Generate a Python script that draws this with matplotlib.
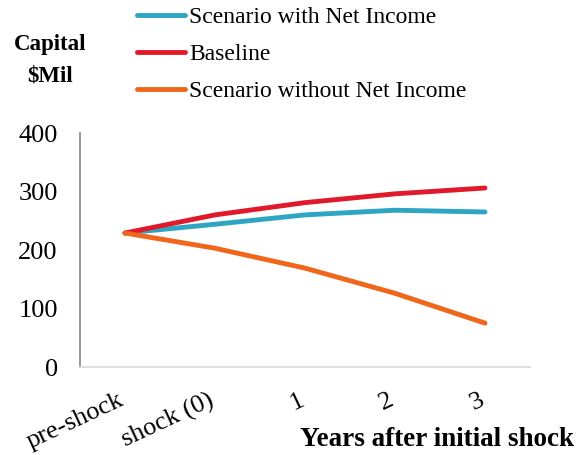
import matplotlib
matplotlib.use('Agg')
import matplotlib.pyplot as plt
import matplotlib.transforms as mtransforms

plt.rcParams['font.family'] = ['Liberation Serif', 'DejaVu Serif']

# categories along the x axis
cats = ['pre-shock', 'shock (0)', '1', '2', '3']

# capital in $Mil
with_ni = [229, 244, 260, 268, 265]
baseline = [229, 260, 281, 296, 306]
without_ni = [229, 203, 169, 126, 75]

labels = ['Scenario with Net Income', 'Baseline', 'Scenario without Net Income']
colors = ['#2EA5C3', '#E01A2B', '#F0661B']

fig = plt.figure(figsize=(5.84, 4.55), dpi=100)
ax = fig.add_axes([80/584, 1-367/455, 450/584, 234/455])

x = range(len(cats))
for ys, lab, col in zip([with_ni, baseline, without_ni], labels, colors):
	ax.plot(x, ys, color=col, lw=3.5, label=lab, solid_capstyle='round', solid_joinstyle='round')

ax.set_xlim(-0.5, len(cats) - 0.5)
ax.set_ylim(0, 400)
ax.set_yticks([0, 100, 200, 300, 400])
ax.set_xticks(list(x))
ax.set_xticklabels(cats, rotation=25, ha='right', rotation_mode='anchor')
ax.tick_params(axis='both', length=0, labelsize=19, colors='black')
ax.tick_params(axis='x', pad=16)
ax.tick_params(axis='y', pad=16)

# nudge the rotated labels a bit left so they sit under the ticks like the original
shift = mtransforms.ScaledTranslation(-7/100, 0, fig.dpi_scale_trans)
for t in ax.get_xticklabels():
	t.set_transform(t.get_transform() + shift)

for s in ['top', 'right']:
	ax.spines[s].set_visible(False)
ax.spines['left'].set_color('#868686')
ax.spines['left'].set_linewidth(1.2)
ax.spines['bottom'].set_color('#d9d9d9')
ax.spines['bottom'].set_linewidth(1.2)

fig.text(50/584, 1-60/455, 'Capital\n$Mil', ha='center', va='center', fontsize=16.5, fontweight='bold', linespacing=1.65)
fig.text(574/584, 1-440/455, 'Years after initial shock', ha='right', va='center', fontsize=19.5, fontweight='bold')

fig.legend(loc='upper left', bbox_to_anchor=(135/584, 1-4/455), frameon=False, fontsize=17,
	handlelength=2.0, handletextpad=0.2, labelspacing=0.66, borderaxespad=0.0, borderpad=0.1)

fig.savefig('out.png', dpi=100)
